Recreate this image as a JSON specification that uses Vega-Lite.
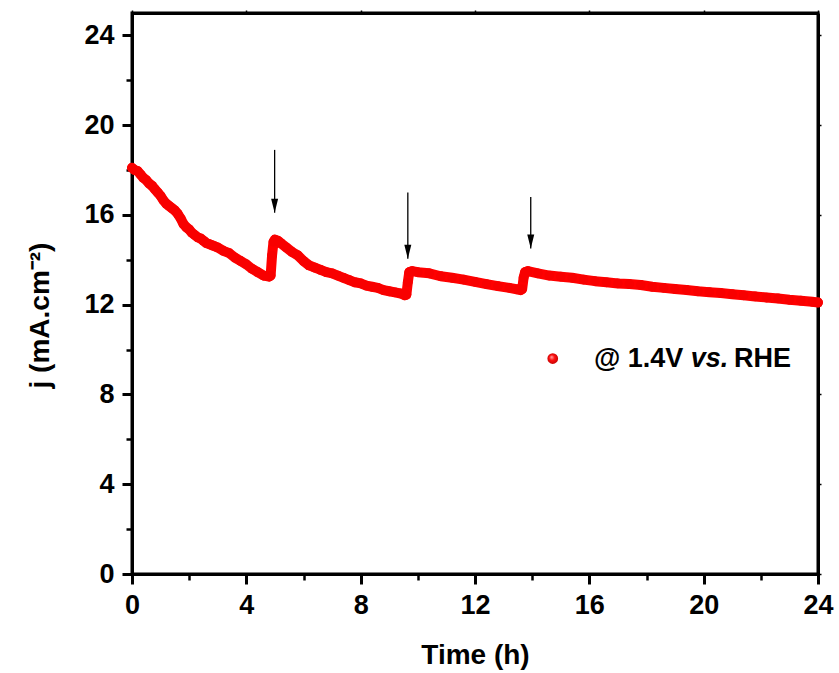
{
  "$schema": "https://vega.github.io/schema/vega-lite/v6.json",
  "autosize": "none",
  "padding": {"left": 132, "top": 13, "right": 21, "bottom": 99},
  "width": 686,
  "height": 561,
  "background": "white",
  "config": {
    "view": {"stroke": "black", "strokeWidth": 3},
    "font": "Liberation Sans",
    "axis": {"grid": false}
  },
  "datasets": {
    "series": [
      {"t": 0.0, "j": 18.1}, {"t": 0.1, "j": 18.0}, {"t": 0.2, "j": 17.95}, {"t": 0.3, "j": 17.8},
      {"t": 0.4, "j": 17.65}, {"t": 0.5, "j": 17.55}, {"t": 0.6, "j": 17.4}, {"t": 0.7, "j": 17.3},
      {"t": 0.8, "j": 17.15}, {"t": 0.9, "j": 17.0}, {"t": 1.0, "j": 16.85}, {"t": 1.1, "j": 16.65},
      {"t": 1.2, "j": 16.5}, {"t": 1.3, "j": 16.4}, {"t": 1.4, "j": 16.3}, {"t": 1.5, "j": 16.2},
      {"t": 1.6, "j": 16.05}, {"t": 1.7, "j": 15.85}, {"t": 1.8, "j": 15.6}, {"t": 1.9, "j": 15.45},
      {"t": 2.0, "j": 15.35}, {"t": 2.1, "j": 15.2}, {"t": 2.2, "j": 15.1}, {"t": 2.3, "j": 15.0},
      {"t": 2.4, "j": 14.95}, {"t": 2.5, "j": 14.85}, {"t": 2.6, "j": 14.75}, {"t": 2.7, "j": 14.7},
      {"t": 2.8, "j": 14.65}, {"t": 2.9, "j": 14.6}, {"t": 3.0, "j": 14.55}, {"t": 3.2, "j": 14.4},
      {"t": 3.4, "j": 14.3}, {"t": 3.6, "j": 14.1}, {"t": 3.8, "j": 13.95}, {"t": 4.0, "j": 13.8},
      {"t": 4.2, "j": 13.6}, {"t": 4.4, "j": 13.45}, {"t": 4.6, "j": 13.3}, {"t": 4.8, "j": 13.25},
      {"t": 4.85, "j": 13.3}, {"t": 4.9, "j": 14.2}, {"t": 4.95, "j": 14.8}, {"t": 5.0, "j": 14.9},
      {"t": 5.1, "j": 14.85}, {"t": 5.2, "j": 14.75}, {"t": 5.4, "j": 14.55}, {"t": 5.6, "j": 14.35},
      {"t": 5.8, "j": 14.2}, {"t": 6.0, "j": 13.95}, {"t": 6.2, "j": 13.75}, {"t": 6.4, "j": 13.65},
      {"t": 6.6, "j": 13.55}, {"t": 6.8, "j": 13.45}, {"t": 7.0, "j": 13.4}, {"t": 7.2, "j": 13.3},
      {"t": 7.4, "j": 13.2}, {"t": 7.6, "j": 13.1}, {"t": 7.8, "j": 13.0}, {"t": 8.0, "j": 12.95},
      {"t": 8.2, "j": 12.85}, {"t": 8.4, "j": 12.8}, {"t": 8.6, "j": 12.75}, {"t": 8.8, "j": 12.65},
      {"t": 9.0, "j": 12.6}, {"t": 9.2, "j": 12.55}, {"t": 9.4, "j": 12.5}, {"t": 9.55, "j": 12.42},
      {"t": 9.6, "j": 12.45}, {"t": 9.65, "j": 13.0}, {"t": 9.7, "j": 13.45}, {"t": 9.8, "j": 13.5},
      {"t": 10.0, "j": 13.45}, {"t": 10.4, "j": 13.4}, {"t": 10.8, "j": 13.27}, {"t": 11.2, "j": 13.2},
      {"t": 11.6, "j": 13.12}, {"t": 12.0, "j": 13.02}, {"t": 12.4, "j": 12.92}, {"t": 12.8, "j": 12.83},
      {"t": 13.2, "j": 12.75}, {"t": 13.5, "j": 12.68}, {"t": 13.6, "j": 12.65}, {"t": 13.65, "j": 12.7},
      {"t": 13.7, "j": 13.2}, {"t": 13.75, "j": 13.45}, {"t": 13.85, "j": 13.5}, {"t": 14.2, "j": 13.4},
      {"t": 14.6, "j": 13.3}, {"t": 15.0, "j": 13.25}, {"t": 15.4, "j": 13.2}, {"t": 15.8, "j": 13.12},
      {"t": 16.2, "j": 13.05}, {"t": 16.6, "j": 13.0}, {"t": 17.0, "j": 12.95}, {"t": 17.4, "j": 12.92},
      {"t": 17.8, "j": 12.88}, {"t": 18.2, "j": 12.8}, {"t": 18.6, "j": 12.75}, {"t": 19.0, "j": 12.7},
      {"t": 19.4, "j": 12.66}, {"t": 19.8, "j": 12.6}, {"t": 20.2, "j": 12.56}, {"t": 20.6, "j": 12.52},
      {"t": 21.0, "j": 12.47}, {"t": 21.4, "j": 12.42}, {"t": 21.8, "j": 12.37}, {"t": 22.2, "j": 12.32},
      {"t": 22.6, "j": 12.28}, {"t": 23.0, "j": 12.22}, {"t": 23.4, "j": 12.18}, {"t": 23.8, "j": 12.13},
      {"t": 24.0, "j": 12.1}
    ],
    "arrows": [
      {"t": 4.99, "top": 18.9, "tip": 16.1},
      {"t": 9.65, "top": 17.0, "tip": 14.05},
      {"t": 13.95, "top": 16.8, "tip": 14.5}
    ],
    "legendMark": [{"t": 14.72, "j": 9.6}],
    "legendNormal": [
      {"t": 16.16, "j": 9.6, "label": "@ 1.4V"},
      {"t": 21.06, "j": 9.6, "label": "RHE"}
    ],
    "legendItalic": [
      {"t": 19.55, "j": 9.6, "label": "vs."}
    ]
  },
  "resolve": {"axis": {"x": "independent", "y": "independent"}},
  "layer": [
    {
      "data": {"name": "series"},
      "mark": {"type": "line", "color": "#ff0000", "strokeWidth": 10, "strokeCap": "round", "strokeJoin": "round"},
      "encoding": {
        "x": {
          "field": "t", "type": "quantitative",
          "scale": {"domain": [0, 24], "nice": false, "zero": false},
          "axis": {
            "orient": "bottom",
            "title": "Time (h)",
            "values": [0, 2, 4, 6, 8, 10, 12, 14, 16, 18, 20, 22, 24],
            "labelExpr": "datum.value % 4 === 0 ? datum.label : ''",
            "labelFontSize": 27, "labelFontWeight": "bold", "labelColor": "black",
            "labelPadding": 8, "labelFlush": false, "labelOverlap": false,
            "titleFontSize": 28, "titleFontWeight": "bold", "titleColor": "black",
            "titlePadding": 23,
            "domainColor": "black", "domainWidth": 3,
            "tickColor": "black",
            "tickSize": {"condition": {"test": "datum.value % 4 === 0", "value": 10}, "value": 6},
            "tickWidth": {"condition": {"test": "datum.value % 4 === 0", "value": 3}, "value": 2.5}
          }
        },
        "y": {
          "field": "j", "type": "quantitative",
          "scale": {"domain": [0, 25], "nice": false, "zero": false},
          "axis": {
            "orient": "left",
            "title": "j (mA.cm⁻²)",
            "values": [0, 2, 4, 6, 8, 10, 12, 14, 16, 18, 20, 22, 24],
            "labelExpr": "datum.value % 4 === 0 ? datum.label : ''",
            "labelFontSize": 27, "labelFontWeight": "bold", "labelColor": "black",
            "labelPadding": 8, "labelFlush": false, "labelOverlap": false,
            "titleFontSize": 28, "titleFontWeight": "bold", "titleColor": "black",
            "titleX": -92, "titleY": 302, "titleBaseline": "middle", "titleAngle": 270,
            "domainColor": "black", "domainWidth": 3,
            "tickColor": "black",
            "tickSize": {"condition": {"test": "datum.value % 4 === 0", "value": 10}, "value": 6},
            "tickWidth": {"condition": {"test": "datum.value % 4 === 0", "value": 3}, "value": 2.5}
          }
        }
      }
    },
    {
      "data": {"name": "series"},
      "mark": {"type": "point", "filled": true, "shape": "circle", "size": 95, "color": "#f80000", "opacity": 1},
      "encoding": {
        "x": {"field": "t", "type": "quantitative", "scale": {"domain": [0, 24], "nice": false, "zero": false}, "axis": null},
        "y": {"field": "j", "type": "quantitative", "scale": {"domain": [0, 25], "nice": false, "zero": false}, "axis": null}
      }
    },
    {
      "data": {"name": "arrows"},
      "mark": {"type": "rule", "color": "black", "strokeWidth": 1.3},
      "encoding": {
        "x": {
          "field": "t", "type": "quantitative",
          "scale": {"domain": [0, 24], "nice": false, "zero": false},
          "axis": {
            "orient": "top", "title": null, "labels": false,
            "values": [0, 4, 8, 12, 16, 20, 24],
            "domainColor": "black", "domainWidth": 3,
            "tickColor": "black", "tickSize": 3, "tickWidth": 1.5
          }
        },
        "y": {
          "field": "top", "type": "quantitative",
          "scale": {"domain": [0, 25], "nice": false, "zero": false},
          "axis": {
            "orient": "right", "title": null, "labels": false,
            "values": [0, 4, 8, 12, 16, 20, 24],
            "domainColor": "black", "domainWidth": 3,
            "tickColor": "black", "tickSize": 3, "tickWidth": 1.5
          }
        },
        "y2": {"field": "tip"}
      }
    },
    {
      "data": {"name": "arrows"},
      "mark": {"type": "point", "filled": true, "shape": "M-0.5,-2L0.5,-2L0,0Z", "size": 196, "color": "black", "opacity": 1},
      "encoding": {
        "x": {"field": "t", "type": "quantitative", "scale": {"domain": [0, 24], "nice": false, "zero": false}, "axis": null},
        "y": {"field": "tip", "type": "quantitative", "scale": {"domain": [0, 25], "nice": false, "zero": false}, "axis": null}
      }
    },
    {
      "data": {"name": "legendMark"},
      "mark": {
        "type": "point", "filled": true, "shape": "circle", "size": 115, "opacity": 1,
        "fill": {"gradient": "radial", "x1": 0.38, "y1": 0.35, "r1": 0, "x2": 0.5, "y2": 0.5, "r2": 0.55,
          "stops": [{"offset": 0, "color": "#ffb0b0"}, {"offset": 0.45, "color": "#ff1010"}, {"offset": 1, "color": "#c00000"}]}
      },
      "encoding": {
        "x": {"field": "t", "type": "quantitative", "scale": {"domain": [0, 24], "nice": false, "zero": false}, "axis": null},
        "y": {"field": "j", "type": "quantitative", "scale": {"domain": [0, 25], "nice": false, "zero": false}, "axis": null}
      }
    },
    {
      "data": {"name": "legendNormal"},
      "mark": {"type": "text", "align": "left", "baseline": "middle", "fontSize": 27, "fontWeight": "bold", "color": "black"},
      "encoding": {
        "x": {"field": "t", "type": "quantitative", "scale": {"domain": [0, 24], "nice": false, "zero": false}, "axis": null},
        "y": {"field": "j", "type": "quantitative", "scale": {"domain": [0, 25], "nice": false, "zero": false}, "axis": null},
        "text": {"field": "label"}
      }
    },
    {
      "data": {"name": "legendItalic"},
      "mark": {"type": "text", "align": "left", "baseline": "middle", "fontSize": 27, "fontWeight": "bold", "fontStyle": "italic", "color": "black"},
      "encoding": {
        "x": {"field": "t", "type": "quantitative", "scale": {"domain": [0, 24], "nice": false, "zero": false}, "axis": null},
        "y": {"field": "j", "type": "quantitative", "scale": {"domain": [0, 25], "nice": false, "zero": false}, "axis": null},
        "text": {"field": "label"}
      }
    }
  ]
}
